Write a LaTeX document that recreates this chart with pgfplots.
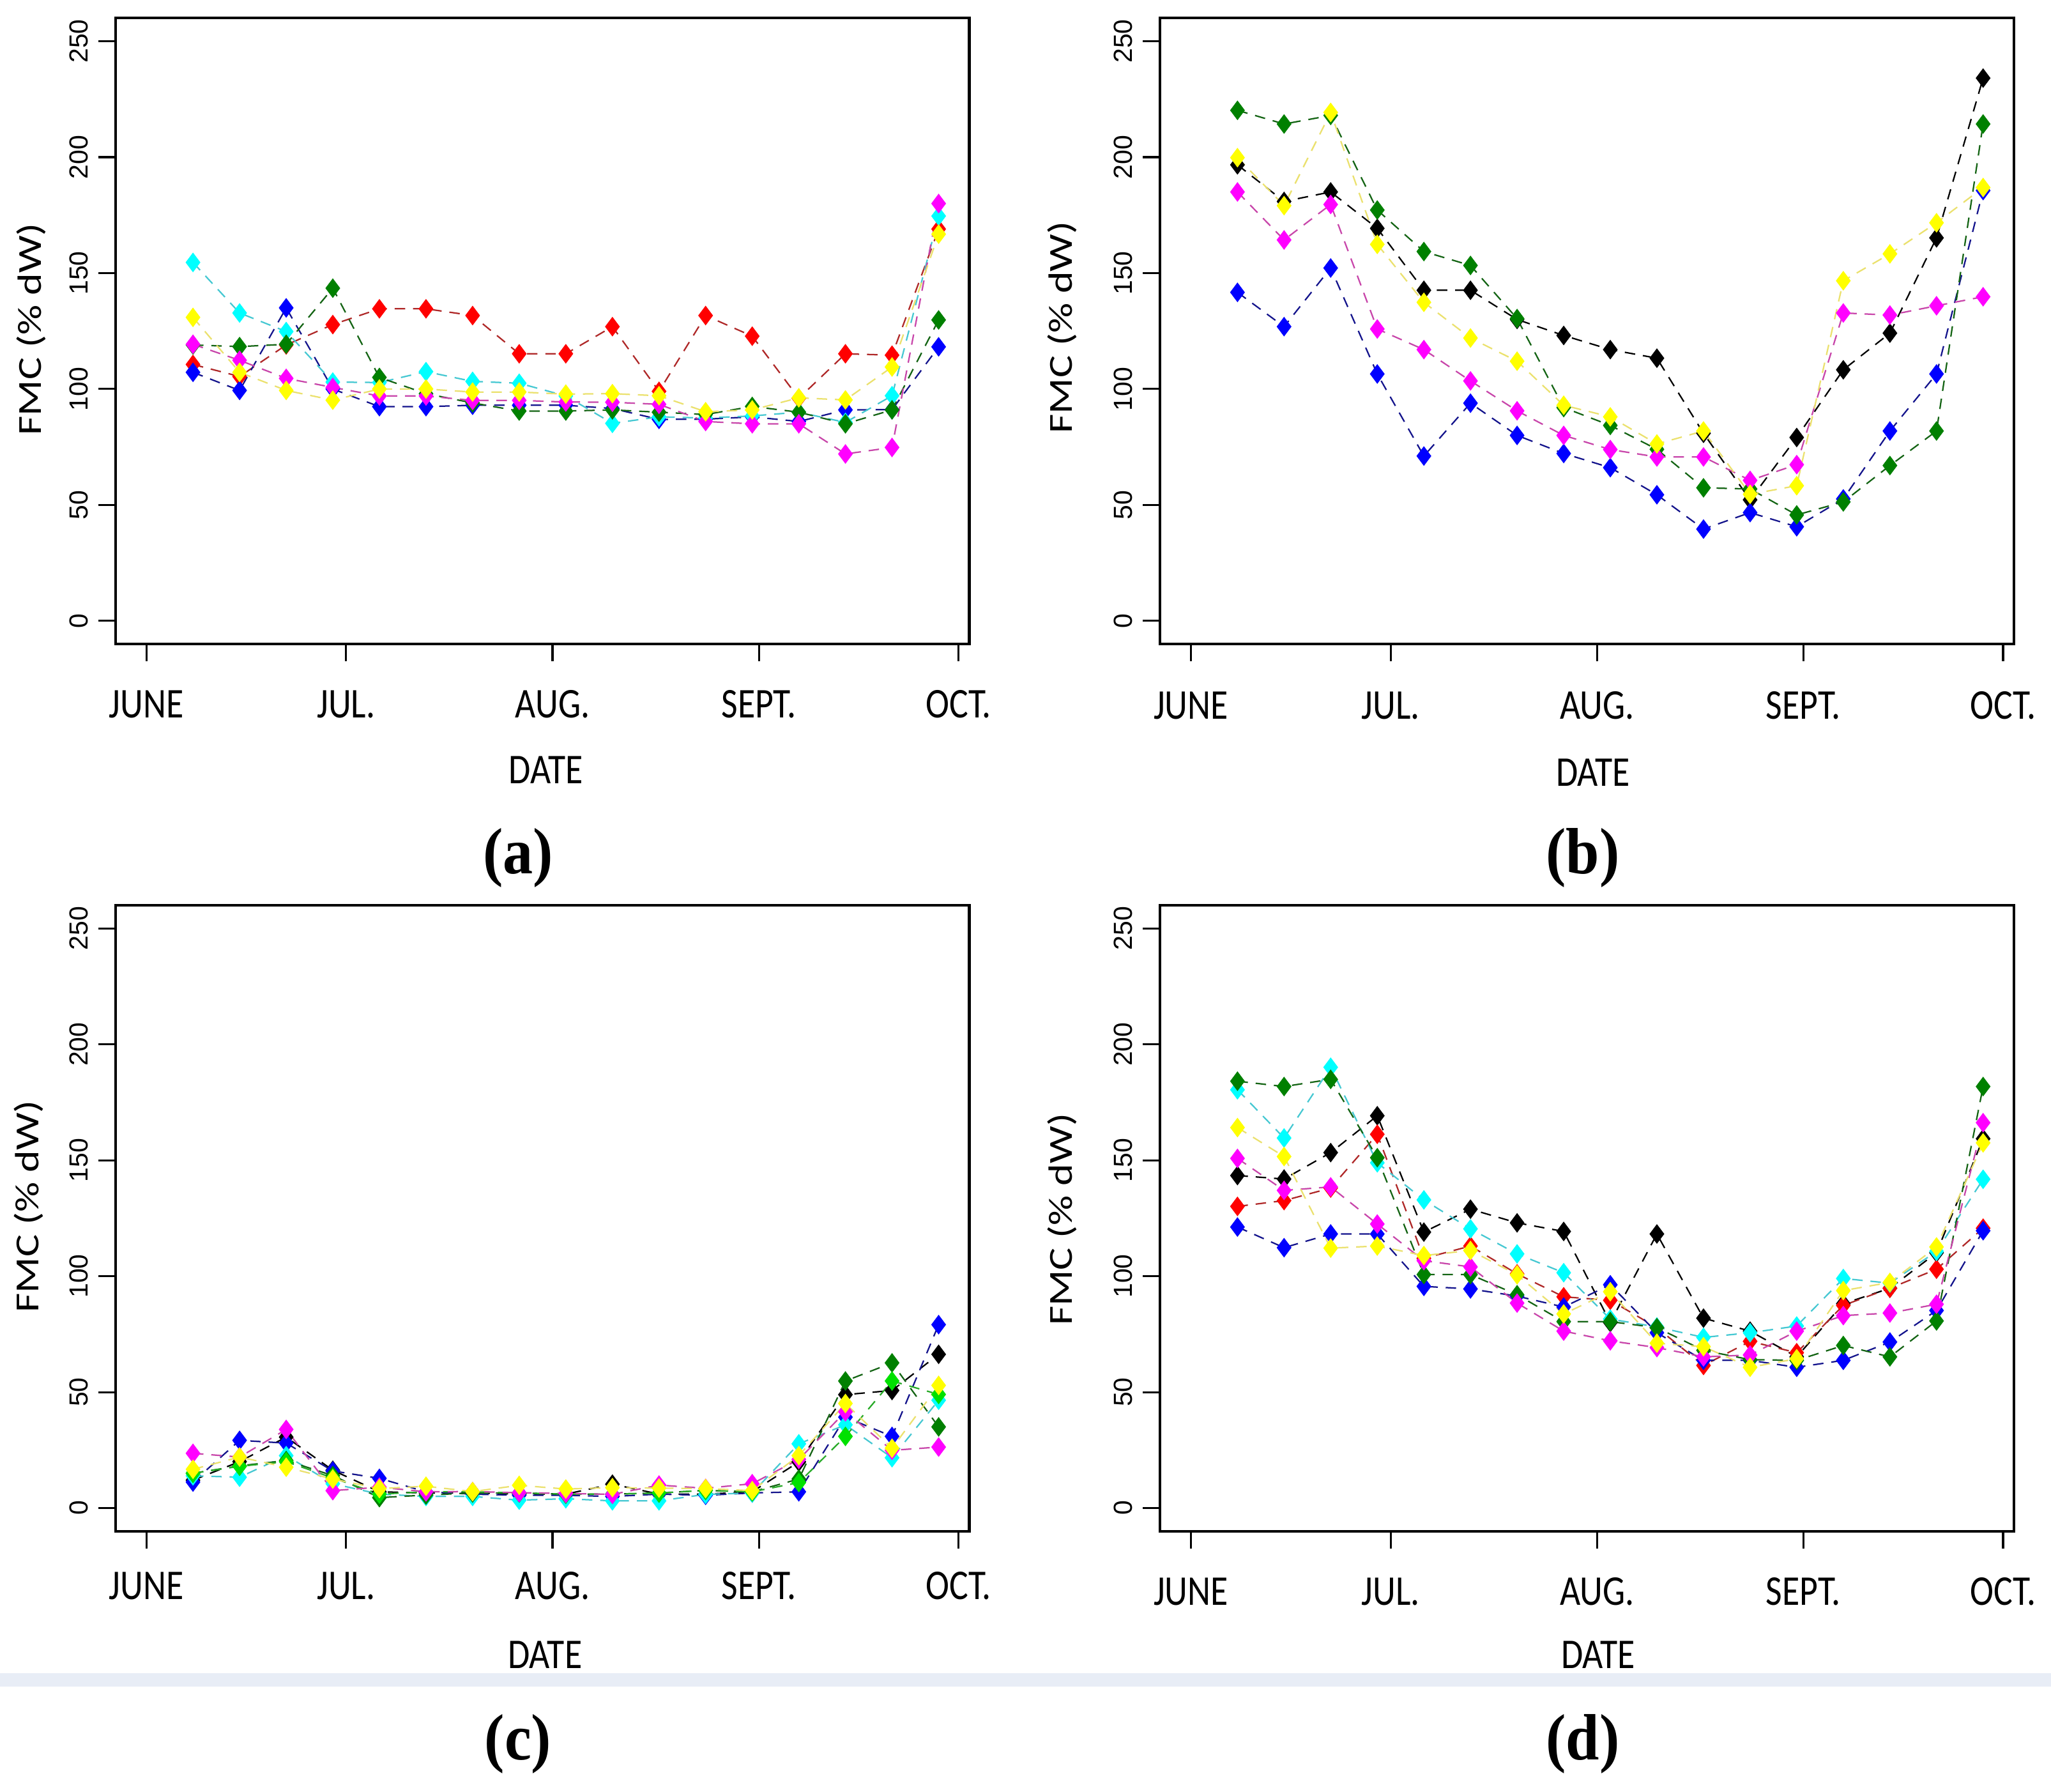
\documentclass[border=0pt]{standalone}
\usepackage{fontspec}
\usepackage{graphicx}
\usepackage{pgfplots}
\usepackage{pgfplotstable}
\pgfplotsset{compat=1.18}
\newfontfamily\monthfont[FakeStretch=0.84]{Carlito}
\newfontfamily\labfont{Carlito}
\newfontfamily\tickfont{Liberation Sans}
\newfontfamily\letterfont[FakeStretch=0.92]{Liberation Serif}

\definecolor{mRed}{RGB}{255,0,0}
\definecolor{lRed}{RGB}{175,40,40}
\definecolor{mGreen}{RGB}{0,128,0}
\definecolor{lGreen}{RGB}{20,100,20}
\definecolor{mLime}{RGB}{0,225,0}
\definecolor{lLime}{RGB}{40,170,40}
\definecolor{mBlue}{RGB}{0,0,255}
\definecolor{lBlue}{RGB}{20,20,140}
\definecolor{mCyan}{RGB}{0,255,255}
\definecolor{lCyan}{RGB}{70,200,210}
\definecolor{mMag}{RGB}{255,0,255}
\definecolor{lMag}{RGB}{200,70,170}
\definecolor{mYel}{RGB}{255,255,0}
\definecolor{lYel}{RGB}{235,225,110}
\definecolor{band}{RGB}{232,237,246}

% days after 1 June; weekly samplings
\pgfplotstableread{
x   red   green blue  cyan  magenta yellow
7   110.6 119   107.2 154.6 119.3 130.9
14  105.4 118.3 99.4  132.8 112.4 107.2
21  119   119.3 135   124.8 104.6 99.4
28  127.8 143.5 100   103   100.7 95.2
35  134.6 105   92.4  102.8 97    100
42  134.6 98    92.4  107.5 97    100
49  131.7 94    93    103.3 95.1  98.7
56  115.2 90.5  93    102.5 95.1  98.7
63  115.2 90.5  93    97    94.4  97.8
70  126.9 91    91.6  85.2  94.3  98
77  99    90    86.9  88    93.4  97.1
84  131.7 89    87    87.5  86    90.2
91  122.8 92.5  88    88.4  85    91
98  96    90    86    90    85    96.2
105 115.2 85    91    85.6  72    95.3
112 114.6 91    91.1  97.1  74.8  109.5
119 169   129.8 118.2 174.6 180   166.8
}\dataA

\pgfplotstableread{
x   black green blue  magenta yellow
7   196.7 220.2 141.7 185   199.8
14  180.9 214.3 126.9 164.3 179.1
21  185   218   152.2 179.6 219.3
28  169.3 177.2 106.5 125.9 162.4
35  142.6 159.3 71.1  117   137.4
42  142.6 153.3 93.9  103.5 122
49  130   130.4 80    90.6  112
56  123.1 92    72.2  80    93
63  117   84.3  66.1  73.9  88
70  113.3 74    54.4  70.7  76.3
77  80.9  57.4  39.6  70.7  81.9
84  52.2  56.9  46.7  60.6  54.6
91  79.1  45.7  40.6  67.4  58.3
98  108.3 51.3  52.6  132.8 146.7
105 124.1 67    81.9  131.9 158.3
112 165.2 81.9  106.5 135.9 171.7
119 234.1 214.3 185.6 139.8 186.9
}\dataB

\pgfplotstableread{
x   black green lime  blue  cyan  magenta yellow
7   12    15    15    11.2  13.9  23.6  16.7
14  20    18.2  18    29.2  13.3  22    22
21  30.6  20.5  20    28    22.6  33.9  17.6
28  16.3  14    13    16    10.5  7.5   12.5
35  7     4.5   6     12.8  6     9     8.4
42  6.5   5.6   7     7     5     7     9.4
49  6.5   6.5   7     6     5     7.1   7.1
56  6     6.5   6.5   5.5   3.4   6.6   9.8
63  6     6     6     5.5   4     6.3   8.2
70  10.3  6     6     5     3.1   5.9   8.8
77  6     6.5   6.5   6     3.1   9.9   8.6
84  6     7.6   7.6   5.5   5.9   8.5   8.4
91  7     7     7     6.5   6.5   10.5  7.5
98  19.9  12.5  11    7     27.7  21    22.6
105 48.9  54.8  30.9  39.2  35.9  41.5  45.1
112 50.7  62.6  54.8  30.9  21.7  24.9  25.8
119 66.3  35    49    79.1  46.5  26.3  52.9
}\dataC

\pgfplotstableread{
x   black red   green blue  cyan  magenta yellow
7   143.4 130.1 184.1 121.2 180.4 150.8 164.1
14  141.9 132.6 181.8 112.3 159.6 137   151.6
21  153.3 138   184.9 118.2 190.1 138.5 112.1
28  169.2 161.2 151.1 118.2 148.9 122.5 113
35  119   107.7 100.7 95.6  132.9 106.7 108.9
42  128.9 113   100.7 94.5  120.4 104   111.1
49  123   101   92    91.4  109.6 88.4  100.6
56  119.3 91.1  80.4  86.7  101.5 76.3  83.7
63  80    89.6  80.4  96.3  81.5  72.1  93.3
70  118.2 77.8  77.8  75.6  78.1  69.2  71.1
77  81.9  61.5  68    63.7  73.6  65.2  69.6
84  76.3  71.9  64    63.7  75.6  66    60.7
91  65.2  67    63.7  60.7  78.5  76.3  64.4
98  88.1  87.4  70.1  63.7  99    83    93.8
105 94.8  94.8  65.2  71.6  97    84.1  97.3
112 110.1 103   80.7  85.2  110.7 87.9  112.6
119 159.3 120.7 181.8 119.6 141.8 166.2 157.5
}\dataD

\pgfplotsset{
  fmc/.style={
    scale only axis, width=326.25pt, height=239.25pt, anchor=south west,
    xmin=-4.6, xmax=123.6, ymin=-10, ymax=260,
    xtick={0,30,61,92,122}, xticklabels={JUNE,JUL.,AUG.,SEPT.,OCT.},
    ytick={0,50,100,150,200,250},
    tick align=outside, tick pos=left, major tick length=6.6pt,
    axis line style={line width=1pt},
    tick style={line width=0.75pt, black},
    /pgf/number format/assume math mode=true,
    yticklabel style={font=\tickfont\fontsize{10}{11}\selectfont, rotate=90, anchor=south},
    yticklabel shift=0.5pt,
    xticklabel style={font=\monthfont\fontsize{16.2}{18}\selectfont, anchor=base},
    xlabel={DATE},
    xlabel style={font=\monthfont\fontsize{16.2}{18}\selectfont, anchor=base},
    ylabel={\scalebox{1}[0.8]{FMC (\% dW)}},
    ylabel style={font=\labfont\fontsize{16.1}{18}\selectfont, anchor=center},
    clip=false,
  },
  ser/.style 2 args={color=#1, mark=diamond*, mark size=3.6pt, line width=0.55pt,
    dash pattern=on 4pt off 3pt,
    mark options={solid, fill=#2, draw=#2, line width=0.2pt}},
}

\begin{document}
\begin{tikzpicture}
\useasboundingbox (0pt,0pt) rectangle (784pt,-684.8pt);
\fill[white] (0pt,0pt) rectangle (784pt,-684.8pt);
\fill[band] (0pt,-639.5pt) rectangle (784pt,-644.5pt);

% (a)
\begin{axis}[fmc, at={(44.25pt,-246.15pt)},
  xticklabel shift=21.5pt,
  xlabel style={at={(axis description cs:0.504,0)}, yshift=-53.35pt},
  ylabel style={at={(axis description cs:-0.099,0.503)}}]
\addplot[ser={lRed}{mRed}] table[x=x,y=red]{\dataA};
\addplot[ser={lBlue}{mBlue}] table[x=x,y=blue]{\dataA};
\addplot[ser={lCyan}{mCyan}] table[x=x,y=cyan]{\dataA};
\addplot[ser={lGreen}{mGreen}] table[x=x,y=green]{\dataA};
\addplot[ser={lMag}{mMag}] table[x=x,y=magenta]{\dataA};
\addplot[ser={lYel}{mYel}] table[x=x,y=yellow]{\dataA};
\end{axis}

% (b)
\begin{axis}[fmc, at={(443.5pt,-246.15pt)},
  xticklabel shift=22.1pt,
  xlabel style={at={(axis description cs:0.507,0)}, yshift=-54.35pt},
  ylabel style={at={(axis description cs:-0.115,0.506)}}]
\addplot[ser={black}{black}] table[x=x,y=black]{\dataB};
\addplot[ser={lBlue}{mBlue}] table[x=x,y=blue]{\dataB};
\addplot[ser={lGreen}{mGreen}] table[x=x,y=green]{\dataB};
\addplot[ser={lMag}{mMag}] table[x=x,y=magenta]{\dataB};
\addplot[ser={lYel}{mYel}] table[x=x,y=yellow]{\dataB};
\end{axis}

% (c)
\begin{axis}[fmc, at={(44.25pt,-585.2pt)},
  xticklabel shift=19.55pt,
  xlabel style={at={(axis description cs:0.503,0)}, yshift=-52.3pt},
  ylabel style={at={(axis description cs:-0.102,0.519)}}]
\addplot[ser={black}{black}] table[x=x,y=black]{\dataC};
\addplot[ser={lBlue}{mBlue}] table[x=x,y=blue]{\dataC};
\addplot[ser={lCyan}{mCyan}] table[x=x,y=cyan]{\dataC};
\addplot[ser={lGreen}{mGreen}] table[x=x,y=green]{\dataC};
\addplot[ser={lLime}{mLime}] table[x=x,y=lime]{\dataC};
\addplot[ser={lMag}{mMag}] table[x=x,y=magenta]{\dataC};
\addplot[ser={lYel}{mYel}] table[x=x,y=yellow]{\dataC};
\end{axis}

% (d)
\begin{axis}[fmc, at={(443.5pt,-585.2pt)},
  xticklabel shift=21.55pt,
  xlabel style={at={(axis description cs:0.513,0)}, yshift=-52.3pt},
  ylabel style={at={(axis description cs:-0.115,0.498)}}]
\addplot[ser={black}{black}] table[x=x,y=black]{\dataD};
\addplot[ser={lRed}{mRed}] table[x=x,y=red]{\dataD};
\addplot[ser={lBlue}{mBlue}] table[x=x,y=blue]{\dataD};
\addplot[ser={lCyan}{mCyan}] table[x=x,y=cyan]{\dataD};
\addplot[ser={lGreen}{mGreen}] table[x=x,y=green]{\dataD};
\addplot[ser={lMag}{mMag}] table[x=x,y=magenta]{\dataD};
\addplot[ser={lYel}{mYel}] table[x=x,y=yellow]{\dataD};
\end{axis}

\node[font=\letterfont\bfseries\fontsize{25}{28}\selectfont] at (198pt,-327.8pt) {(a)};
\node[font=\letterfont\bfseries\fontsize{25}{28}\selectfont] at (605pt,-327.8pt) {(b)};
\node[font=\letterfont\bfseries\fontsize{25}{28}\selectfont] at (198pt,-666.5pt) {(c)};
\node[font=\letterfont\bfseries\fontsize{25}{28}\selectfont] at (605pt,-666.5pt) {(d)};
\end{tikzpicture}
\end{document}
